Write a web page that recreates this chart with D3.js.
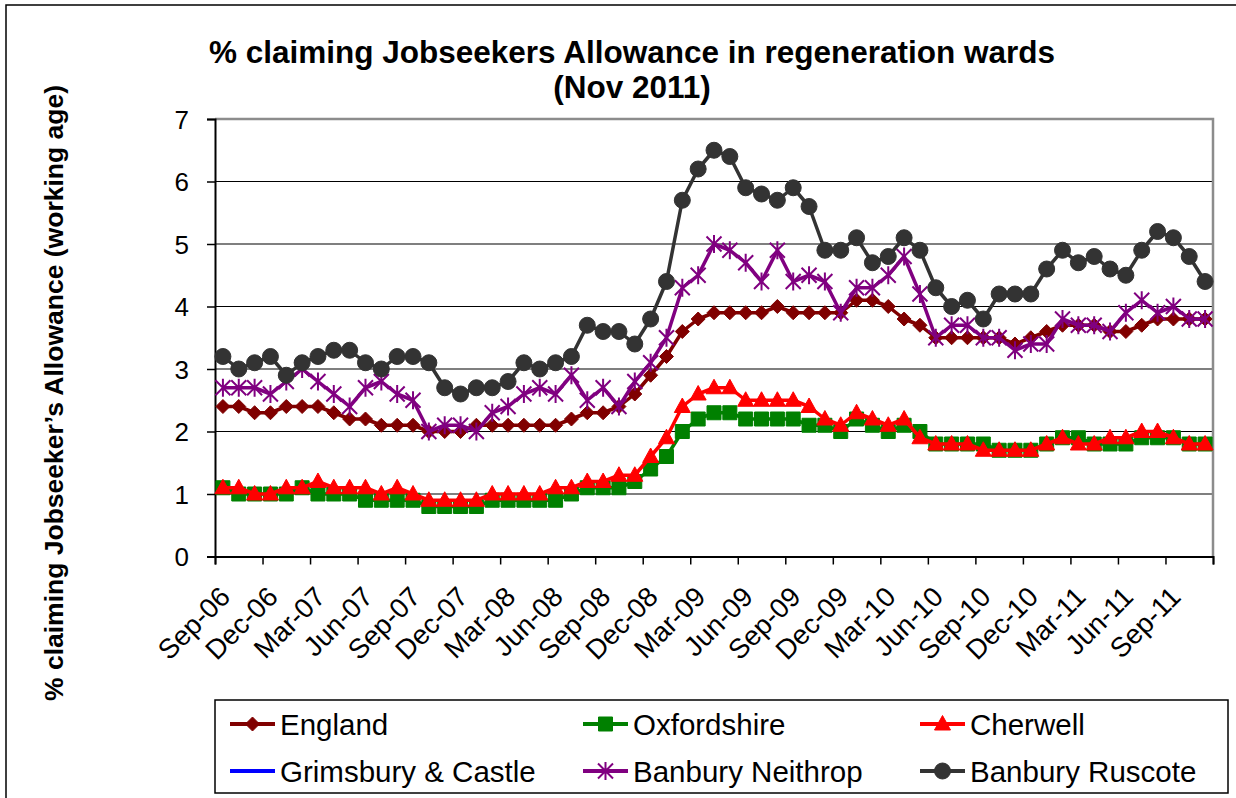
<!DOCTYPE html>
<html><head><meta charset="utf-8">
<script src="https://cdn.jsdelivr.net/npm/d3@7"></script>
<style>
body{margin:0;background:#fff}
svg{display:block}
text{font-family:Arial,"Liberation Sans",sans-serif;fill:#000}
</style>
</head><body>
<svg id="c" width="1236" height="798"></svg>
<script>
const months = [
 "Sep-06","Oct-06","Nov-06","Dec-06","Jan-07","Feb-07","Mar-07","Apr-07","May-07","Jun-07","Jul-07","Aug-07",
 "Sep-07","Oct-07","Nov-07","Dec-07","Jan-08","Feb-08","Mar-08","Apr-08","May-08","Jun-08","Jul-08","Aug-08",
 "Sep-08","Oct-08","Nov-08","Dec-08","Jan-09","Feb-09","Mar-09","Apr-09","May-09","Jun-09","Jul-09","Aug-09",
 "Sep-09","Oct-09","Nov-09","Dec-09","Jan-10","Feb-10","Mar-10","Apr-10","May-10","Jun-10","Jul-10","Aug-10",
 "Sep-10","Oct-10","Nov-10","Dec-10","Jan-11","Feb-11","Mar-11","Apr-11","May-11","Jun-11","Jul-11","Aug-11",
 "Sep-11","Oct-11","Nov-11"];
const tickLabels = ["Sep-06","Dec-06","Mar-07","Jun-07","Sep-07","Dec-07","Mar-08","Jun-08","Sep-08","Dec-08",
 "Mar-09","Jun-09","Sep-09","Dec-09","Mar-10","Jun-10","Sep-10","Dec-10","Mar-11","Jun-11","Sep-11"];
const yTicks = [0,1,2,3,4,5,6,7];

const england = [2.4,2.4,2.3,2.3,2.4,2.4,2.4,2.3,2.2,2.2,2.1,2.1,2.1,2.0,2.0,2.0,2.1,2.1,2.1,2.1,2.1,2.1,2.2,2.3,
 2.3,2.4,2.6,2.9,3.2,3.6,3.8,3.9,3.9,3.9,3.9,4.0,3.9,3.9,3.9,3.9,4.1,4.1,4.0,3.8,3.7,3.5,3.5,3.5,
 3.5,3.5,3.4,3.5,3.6,3.7,3.7,3.7,3.6,3.6,3.7,3.8,3.8,3.8,3.8];
const oxfordshire = [1.1,1.0,1.0,1.0,1.0,1.1,1.0,1.0,1.0,0.9,0.9,0.9,0.9,0.8,0.8,0.8,0.8,0.9,0.9,0.9,0.9,0.9,1.0,1.1,
 1.1,1.1,1.2,1.4,1.6,2.0,2.2,2.3,2.3,2.2,2.2,2.2,2.2,2.1,2.1,2.0,2.2,2.1,2.0,2.1,2.0,1.8,1.8,1.8,
 1.8,1.7,1.7,1.7,1.8,1.9,1.9,1.8,1.8,1.8,1.9,1.9,1.9,1.8,1.8];
const cherwell = [1.1,1.1,1.0,1.0,1.1,1.1,1.2,1.1,1.1,1.1,1.0,1.1,1.0,0.9,0.9,0.9,0.9,1.0,1.0,1.0,1.0,1.1,1.1,1.2,
 1.2,1.3,1.3,1.6,1.9,2.4,2.6,2.7,2.7,2.5,2.5,2.5,2.5,2.4,2.2,2.1,2.3,2.2,2.1,2.2,1.9,1.8,1.8,1.8,
 1.7,1.7,1.7,1.7,1.8,1.9,1.8,1.8,1.9,1.9,2.0,2.0,1.9,1.8,1.8];
const grimsburyCastle = [];
const banburyNeithrop = [2.7,2.7,2.7,2.6,2.8,3.0,2.8,2.6,2.4,2.7,2.8,2.6,2.5,2.0,2.1,2.1,2.0,2.3,2.4,2.6,2.7,2.6,2.9,2.5,
 2.7,2.4,2.8,3.1,3.5,4.3,4.5,5.0,4.9,4.7,4.4,4.9,4.4,4.5,4.4,3.9,4.3,4.3,4.5,4.8,4.2,3.5,3.7,3.7,
 3.5,3.5,3.3,3.4,3.4,3.8,3.7,3.7,3.6,3.9,4.1,3.9,4.0,3.8,3.8];
const banburyRuscote = [3.2,3.0,3.1,3.2,2.9,3.1,3.2,3.3,3.3,3.1,3.0,3.2,3.2,3.1,2.7,2.6,2.7,2.7,2.8,3.1,3.0,3.1,3.2,3.7,
 3.6,3.6,3.4,3.8,4.4,5.7,6.2,6.5,6.4,5.9,5.8,5.7,5.9,5.6,4.9,4.9,5.1,4.7,4.8,5.1,4.9,4.3,4.0,4.1,
 3.8,4.2,4.2,4.2,4.6,4.9,4.7,4.8,4.6,4.5,4.9,5.2,5.1,4.8,4.4];

const seriesNames = ["England","Oxfordshire","Cherwell","Grimsbury & Castle","Banbury Neithrop","Banbury Ruscote"];
const seriesValues = [england, oxfordshire, cherwell, grimsburyCastle, banburyNeithrop, banburyRuscote];
const seriesColors = ["#800000","#008000","#ff0000","#0000ff","#800080","#333333"];
const seriesMarkers = ["diamond","square","triangle","dash","star","circle"];

const titleLines = ["% claiming Jobseekers Allowance in regeneration wards","(Nov 2011)"];
const yTitle = "% claiming Jobseeker\u2019s Allowance (working age)";

const svg = d3.select("#c");
const W = 1236, H = 798;
const L = 215, R = 1213, T = 119, B = 556.5;

// outer border
svg.append("rect").attr("x",6).attr("y",5).attr("width",W+10).attr("height",H+10)
  .attr("fill","#fff").attr("stroke","#000").attr("stroke-width",1.5);

const x = d3.scaleBand().domain(months).range([L,R]).paddingInner(0).paddingOuter(0);
const xi = d3.scaleLinear().domain([0, months.length]).range([L,R]);
const y = d3.scaleLinear().domain([0,7]).range([B,T]);
const cx = m => x(m) + x.bandwidth()/2;

// gridlines
svg.append("g").selectAll("line").data(yTicks.filter(v=>v>0 && v<7)).join("line")
  .attr("x1",L).attr("x2",R).attr("y1",d=>y(d)).attr("y2",d=>y(d))
  .attr("stroke","#000").attr("stroke-width",1.2);
// plot frame top/right
svg.append("path").attr("d",`M${L},${y(7)}H${R}V${B}`).attr("fill","none")
  .attr("stroke","#8c8c8c").attr("stroke-width",2.5);

// y axis
const yAxis = svg.append("g").attr("transform",`translate(${L},0)`)
  .call(d3.axisLeft(y).tickValues(yTicks).tickSize(8).tickPadding(18).tickFormat(d3.format("d")));
yAxis.select(".domain").attr("stroke","#000").attr("stroke-width",2);
yAxis.selectAll(".tick line").attr("stroke","#000").attr("stroke-width",1.5);
yAxis.selectAll(".tick text").attr("font-size",26).attr("font-family","Arial, Liberation Sans, sans-serif").attr("fill","#000").attr("dy","0.36em");

// x axis
const xAxis = svg.append("g").attr("transform",`translate(0,${B})`)
  .call(d3.axisBottom(xi).tickValues(d3.range(0, months.length+1, 3)).tickSize(8).tickFormat(""));
xAxis.select(".domain").attr("stroke","#000").attr("stroke-width",2);
xAxis.selectAll(".tick line").attr("stroke","#000").attr("stroke-width",1.5);

svg.append("g").selectAll("text").data(tickLabels).join("text")
  .attr("transform",(d,i)=>`translate(${cx(months[i*3])+9},${B+42}) rotate(-45)`)
  .attr("text-anchor","end").attr("font-size",27.5).text(d=>d);

// marker paths
function markerPath(type){
  switch(type){
    case "diamond": return "M0,-7L7,0L0,7L-7,0Z";
    case "square": return "M-7,-7H7V7H-7Z";
    case "triangle": return "M0,-8.5L8,6H-8Z";
    case "circle": return d3.symbol(d3.symbolCircle, Math.PI*8*8)();
    case "star": return "M-7.5,-7.5L7.5,7.5M-7.5,7.5L7.5,-7.5M0,-9V9";
    case "dash": return "M-4,0H4";
  }
}
function drawMarker(g, type, color){
  const p = g.append("path").attr("d", markerPath(type));
  if(type==="star" || type==="dash") p.attr("fill","none").attr("stroke",color).attr("stroke-width",2);
  else p.attr("fill",color).attr("stroke",color).attr("stroke-width",1);
}

const line = d3.line().x((d,i)=>cx(months[i])).y(d=>y(d));
seriesValues.forEach((vals,k)=>{
  if(!vals.length) return;
  const g = svg.append("g");
  g.append("path").attr("d", line(vals)).attr("fill","none")
    .attr("stroke", seriesColors[k]).attr("stroke-width",3.5).attr("stroke-linejoin","round");
  vals.forEach((v,i)=>{
    const mg = g.append("g").attr("transform",`translate(${cx(months[i])},${y(v)})`);
    drawMarker(mg, seriesMarkers[k], seriesColors[k]);
  });
});

// titles
svg.append("text").attr("x",632).attr("y",63).attr("text-anchor","middle")
  .attr("font-size",31.5).attr("font-weight","bold").text(titleLines[0]);
svg.append("text").attr("x",632).attr("y",98).attr("text-anchor","middle")
  .attr("font-size",31.5).attr("font-weight","bold").text(titleLines[1]);
svg.append("text").attr("transform","translate(63,393) rotate(-90)").attr("text-anchor","middle")
  .attr("font-size",26.5).attr("font-weight","bold").text(yTitle);

// legend
const lg = svg.append("g");
lg.append("rect").attr("x",215).attr("y",700).attr("width",1013).attr("height",93)
  .attr("fill","#fff").attr("stroke","#000").attr("stroke-width",1.5);
const colX = [230, 583, 920], rowY = [724, 771];
seriesNames.forEach((name,k)=>{
  const gx = colX[k%3], gy = rowY[Math.floor(k/3)];
  const g = lg.append("g").attr("transform",`translate(${gx},${gy})`);
  g.append("line").attr("x1",0).attr("x2",45).attr("y1",0).attr("y2",0)
    .attr("stroke",seriesColors[k]).attr("stroke-width",4);
  const mg = g.append("g").attr("transform","translate(22.5,0)");
  drawMarker(mg, seriesMarkers[k], seriesColors[k]);
  g.append("text").attr("x",50).attr("y",0).attr("dy","0.36em").attr("font-size",29.5).text(name);
});
</script>
</body></html>
